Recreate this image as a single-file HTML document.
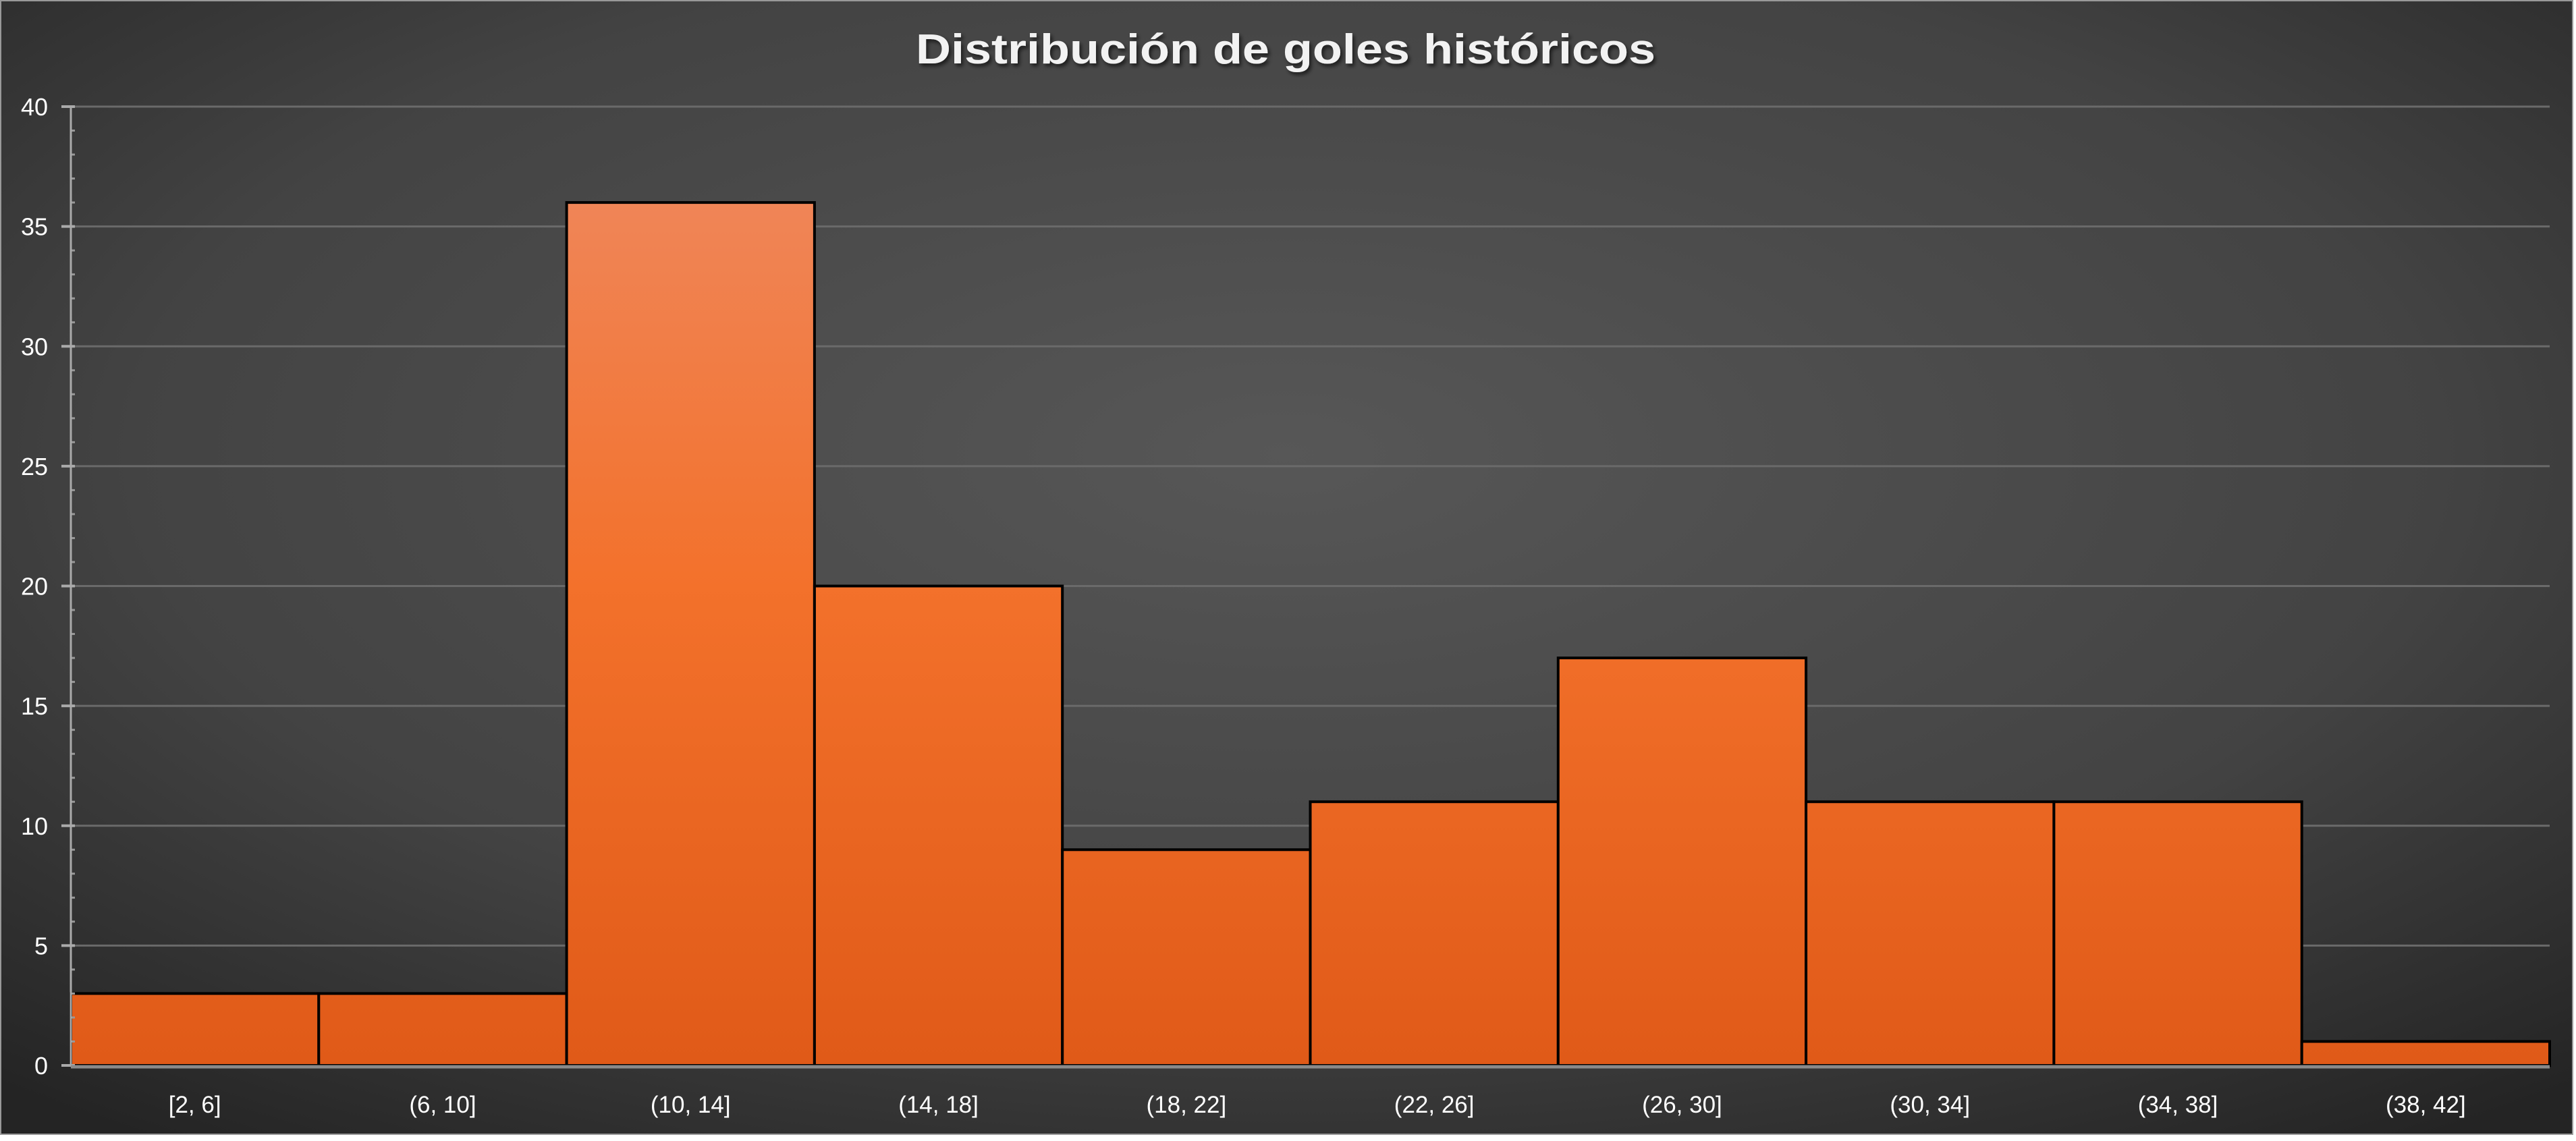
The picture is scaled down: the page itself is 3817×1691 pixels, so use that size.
<!DOCTYPE html>
<html><head><meta charset="utf-8"><style>
html,body{margin:0;padding:0;background:#fff;}
svg{display:block;}
text{font-family:"Liberation Sans",sans-serif;}
</style></head><body>
<svg id="chart" width="3817" height="1691" viewBox="0 0 3817 1691" xmlns="http://www.w3.org/2000/svg">
<defs>
<radialGradient id="bg" cx="0.5" cy="0.4" r="0.75">
<stop offset="0" stop-color="#575757"/><stop offset="0.6" stop-color="#434343"/><stop offset="1" stop-color="#242424"/>
</radialGradient>
<linearGradient id="barg" gradientUnits="userSpaceOnUse" x1="0" y1="158" x2="0" y2="1579">
<stop offset="0" stop-color="#ef8a62"/><stop offset="0.5" stop-color="#f3712b"/><stop offset="1" stop-color="#e05a18"/>
</linearGradient>
<filter id="sh"><feDropShadow dx="3" dy="4" stdDeviation="3" flood-color="#000" flood-opacity="0.6"/></filter>
</defs>
<rect x="1" y="1" width="3811" height="1680" fill="url(#bg)" stroke="#999" stroke-width="2"/>
<text x="1905" y="94" text-anchor="middle" font-size="62" font-weight="bold" fill="#f2f2f2" textLength="1096" lengthAdjust="spacingAndGlyphs" filter="url(#sh)">Distribución de goles históricos</text>
<g id="grid"></g><g id="bars"></g><g id="axes"></g>
</svg>
<script>
const categories=["[2, 6]","(6, 10]","(10, 14]","(14, 18]","(18, 22]","(22, 26]","(26, 30]","(30, 34]","(34, 38]","(38, 42]"];
const counts=[3,3,36,20,9,11,17,11,11,1];
const yTicks=[0,5,10,15,20,25,30,35,40];
const NS="http://www.w3.org/2000/svg";
const L=105,R=3778,T=158,B=1579,YMAX=40;
function y(v){return B-(v/YMAX)*(B-T);}
function x(i){return L+i*(R-L)/categories.length;}
function mk(tag,attrs,parent){const e=document.createElementNS(NS,tag);for(const k in attrs)e.setAttribute(k,attrs[k]);parent.appendChild(e);return e;}
const grid=document.getElementById('grid'),bars=document.getElementById('bars'),axes=document.getElementById('axes');
yTicks.forEach(t=>{
  if(t>0){const g=mk('line',{x1:L,x2:R,y1:y(t),y2:y(t),stroke:'#6a6a6a','stroke-width':3},grid);
  
  }
  const tk=mk('line',{x1:L-14,x2:L+6,y1:y(t),y2:y(t),stroke:'#aaa','stroke-width':4},axes);
  
  
  const lb=mk('text',{x:L-34,y:y(t)+13,'text-anchor':'end','font-size':36,fill:'#fff'},axes);
  lb.textContent=t;
  
  
});
for(let v=1;v<YMAX;v++){if(v%5===0)continue;
  const m=mk('line',{x1:L,x2:L+6,y1:y(v),y2:y(v),stroke:'#999','stroke-width':3},axes);
  
  }
counts.forEach((c,i)=>{
  const r=mk('rect',{x:x(i),y:y(c),width:x(i+1)-x(i),height:B-y(c),fill:'url(#barg)',stroke:'#000','stroke-width':4},bars);
  
  
  const lb=mk('text',{x:(x(i)+x(i+1))/2,y:1649,'text-anchor':'middle','font-size':35,fill:'#fff'},axes);
  lb.textContent=categories[i];
  
  
});
const ya=mk('line',{x1:L,x2:L,y1:T,y2:B,stroke:'#aaa','stroke-width':3},axes);


const xa=mk('line',{x1:L,x2:R,y1:B+2,y2:B+2,stroke:'#8a8a8a','stroke-width':5},axes);


</script>
</body></html>
